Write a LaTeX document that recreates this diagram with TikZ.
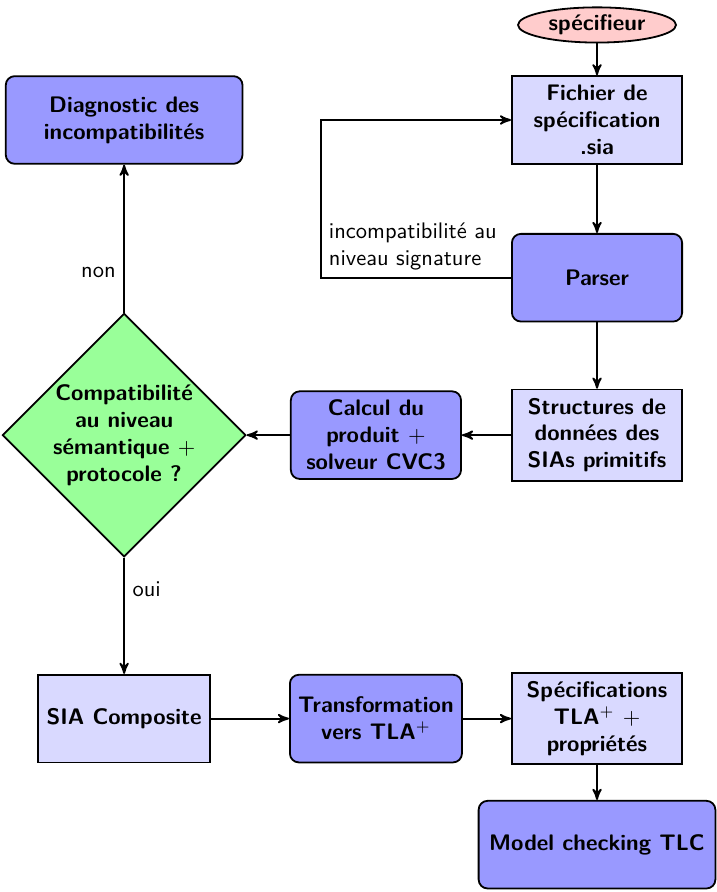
\documentclass[tikz,border=0pt]{standalone}
\usepackage{amsmath}
\usepackage[svgnames]{xcolor}
\usepackage{tikz}
\usetikzlibrary{shapes,arrows,positioning}
\tikzset{
  every node/.style={font=\sffamily},
  fichier/.style={rectangle, draw, thick, fill=blue!15, align=center, minimum width=2.66cm, minimum height=1.37cm, inner sep=0.13cm, font=\sffamily\bfseries},
  traitement/.style={fichier, rounded corners=4pt, fill=blue!40},
  grandtraitement/.style={traitement, minimum width=3.7cm},
  decision/.style={diamond, draw, thick, fill=green!40, align=center, minimum width=3.78cm, minimum height=3.75cm, inner sep=0pt, font=\sffamily\bfseries},
  acteur/.style={ellipse, draw, thick, fill=red!20, minimum width=2.47cm, minimum height=0.55cm, inner sep=0pt, font=\sffamily\bfseries},
  fleche/.style={->, >=stealth', thick}
}
\begin{document}
\begin{tikzpicture}
\newcommand{\gauche}{1.94}
\newcommand{\milieu}{5.875}
\newcommand{\droite}{9.33}
\useasboundingbox (0, 0) rectangle (11.2, -13.94);
%% colonne de droite
\node[acteur] (spec) at (\droite, -0.39) {sp\'ecifieur};
\node[fichier] (fichier) at (\droite, -1.875) {Fichier de\\sp\'ecification\\.sia};
\node[traitement] (parser) at (\droite, -4.34) {Parser};
\node[fichier] (struct) at (\droite, -6.8) {Structures de\\donn\'ees des\\SIAs primitifs};
\node[traitement] (calcul) at (\milieu, -6.8) {Calcul du\\produit $+$\\solveur CVC3};
\node[decision] (compat) at (\gauche, -6.8) {Compatibilit\'e\\au niveau\\s\'emantique $+$\\protocole ?};
\node[grandtraitement] (diag) at (\gauche, -1.875) {Diagnostic des\\incompatibilit\'es};
%% ligne du bas
\node[fichier] (compo) at (\gauche, -11.23) {SIA Composite};
\node[traitement] (transfo) at (\milieu, -11.23) {Transformation\\vers TLA$^+$};
\node[fichier] (tla) at (\droite, -11.23) {Sp\'ecifications\\TLA$^+$ $+$\\propri\'et\'es};
\node[grandtraitement] (tlc) at (\droite, -13.2) {Model checking TLC};
%% fleches
\draw[fleche] (spec) -- (fichier);
\draw[fleche] (fichier) -- (parser);
\draw[fleche] (parser) -- (struct);
\draw[fleche] (parser.west) -- ++(-2.97, 0) coordinate (coin) |- (fichier.west);
\node[anchor=south west, align=left] (sig) at (coin) {incompatibilit\'e au\\niveau signature};
\draw[fleche] (struct) -- (calcul);
\draw[fleche] (calcul) -- (compat);
\draw[fleche] (compat.north) -- (diag.south) node[pos=0.27, left] (non) {non};
\draw[fleche] (compat.south) -- (compo.north) node[pos=0.27, right] (oui) {oui};
\draw[fleche] (compo) -- (transfo);
\draw[fleche] (transfo) -- (tla);
\draw[fleche] (tla) -- (tlc);
\end{tikzpicture}
\end{document}
